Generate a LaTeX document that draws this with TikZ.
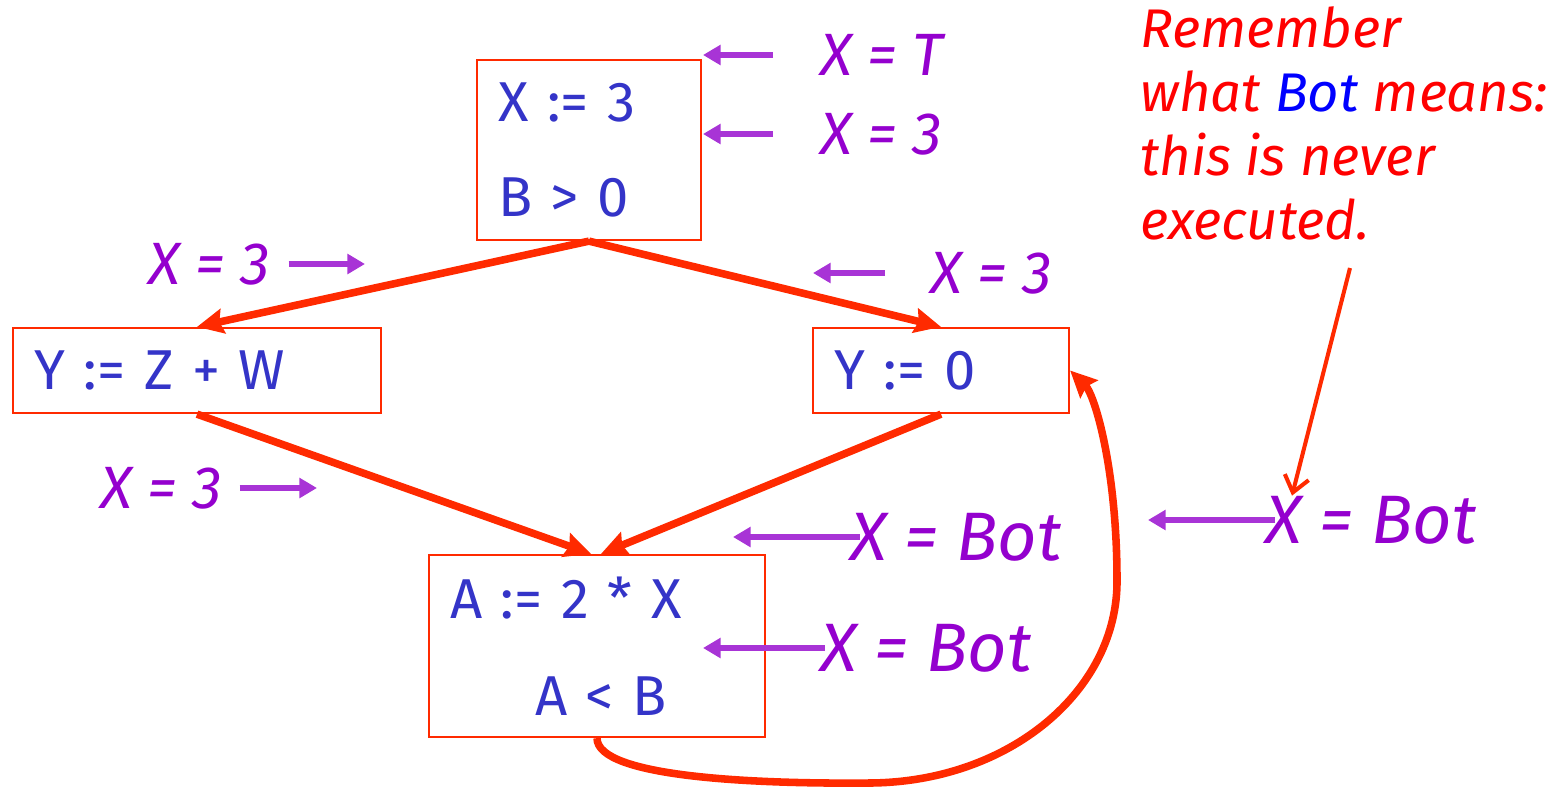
\documentclass[tikz,border=0pt]{standalone}
\usepackage{fontspec}
\setmainfont{Fira Sans}
\usepackage{xcolor}
\usetikzlibrary{arrows.meta}

\definecolor{edgered}{RGB}{255,42,0}
\definecolor{codeblue}{RGB}{52,52,200}
\definecolor{factviolet}{RGB}{148,0,206}
\definecolor{tipviolet}{RGB}{168,52,214}
\definecolor{notered}{RGB}{255,0,0}
\definecolor{notblue}{RGB}{0,0,255}

\begin{document}
\begin{tikzpicture}[
  x=0.02cm, y=-0.02cm,
  blk/.style={draw=edgered, line width=1.3pt, align=left, inner xsep=0.42cm,
              inner ysep=0pt, text=codeblue,
              font=\fontsize{32}{54}\selectfont},
  fact/.style={anchor=west, inner sep=0pt, text=factviolet,
               font=\fontsize{34}{40}\selectfont\itshape},
  botfact/.style={fact, font=\fontsize{39}{44}\selectfont\itshape},
  flow/.style={draw=edgered, line width=4.3pt,
               -{Stealth[length=15pt, width=14pt, inset=2pt]}},
  ann/.style={draw=tipviolet, line width=3.2pt,
              -{Triangle[length=10pt, width=11pt]}},
  >={Stealth}
]
\useasboundingbox (0,0) rectangle (1548,788);

% Basic blocks
\node[blk, text width=3.64cm, minimum height=3.6cm] (b1) at (589,150)
  {X := 3\\B > 0};
\node[blk, text width=6.52cm, minimum height=1.7cm] (b2) at (197,370.5)
  {Y := Z + W};
\node[blk, text width=4.28cm, minimum height=1.7cm] (b3) at (941,370.5)
  {Y := 0};
\node[blk, text width=5.88cm, minimum height=3.64cm,
      font=\fontsize{32}{55}\selectfont] (b4) at (597,646)
  {A := 2 * X\\\hspace*{1.7cm}A < B};

% Facts about X
\node[fact] (xtop) at (820,55)  {X = T};
\node[fact] (xin1) at (820,134) {X = 3};
\node[fact] (xl1)  at (148,264) {X = 3};
\node[fact] (xr1)  at (930,273) {X = 3};
\node[fact] (xl2)  at (100,488) {X = 3};
\node[botfact] (xbot1) at (850,537)  {X = Bot};
\node[botfact] (xbot2) at (820,648)  {X = Bot};
\node[botfact] (xbot3) at (1265,520) {X = Bot};

% Remark
\node[anchor=north west, inner sep=0pt, align=left, text=notered,
      font=\fontsize{31}{36.5}\selectfont\itshape] (note) at (1140,6)
  {Remember\\what {\color{notblue}Bot} means:\\this is never\\executed.};

\coordinate (ptop)  at (703,52);
\coordinate (pin1)  at (703,135);
\coordinate (pl1)   at (365,265);
\coordinate (pr1)   at (813,275);
\coordinate (pl2)   at (317,489);
\coordinate (pbot1) at (733,533);
\coordinate (pbot2) at (703,645);
\coordinate (pbot3) at (1148,517);
\coordinate (ntail) at (1350,268);
\coordinate (lpb)   at (870,783);
\coordinate (lpr)   at (1117,580);

% edges
\draw[flow] (b1.south) -- (b2.north);
\draw[flow] (b1.south) -- (b3.north);
\draw[flow] (b2.south) -- ([xshift=-0.12cm]b4.north);
\draw[flow] (b3.south) -- ([xshift=0.08cm]b4.north);
\draw[flow] (b4.south) .. controls (597,778) and (760,784) .. (lpb)
  .. controls (1010,782) and (1118,690) .. (lpr)
  .. controls (1117,470) and (1095,395) .. (b3.east);

% annotations
\draw[ann] ([xshift=-0.94cm]xtop.west) -- (xtop.west -| ptop);
\draw[ann] ([xshift=-0.94cm]xin1.west) -- (xin1.west -| pin1);
\draw[ann] ([xshift=0.36cm]xl1.east) -- (xl1.east -| pl1);
\draw[ann] ([xshift=-0.9cm]xr1.west) -- (xr1.west -| pr1);
\draw[ann] ([xshift=0.34cm]xl2.east) -- (xl2.east -| pl2);
\draw[ann] ([xshift=0.2cm]xbot1.west) -- (xbot1.west -| pbot1);
\draw[ann] ([xshift=0.1cm]xbot2.west) -- (xbot2.west -| pbot2);
\draw[ann] ([xshift=0.2cm]xbot3.west) -- (xbot3.west -| pbot3);
\draw[draw=edgered, line width=2.3pt,
      -{Straight Barb[length=9pt, width=14pt, line width=2.3pt]}]
  (ntail) -- ([xshift=0.54cm]xbot3.north west);
\end{tikzpicture}
\end{document}
